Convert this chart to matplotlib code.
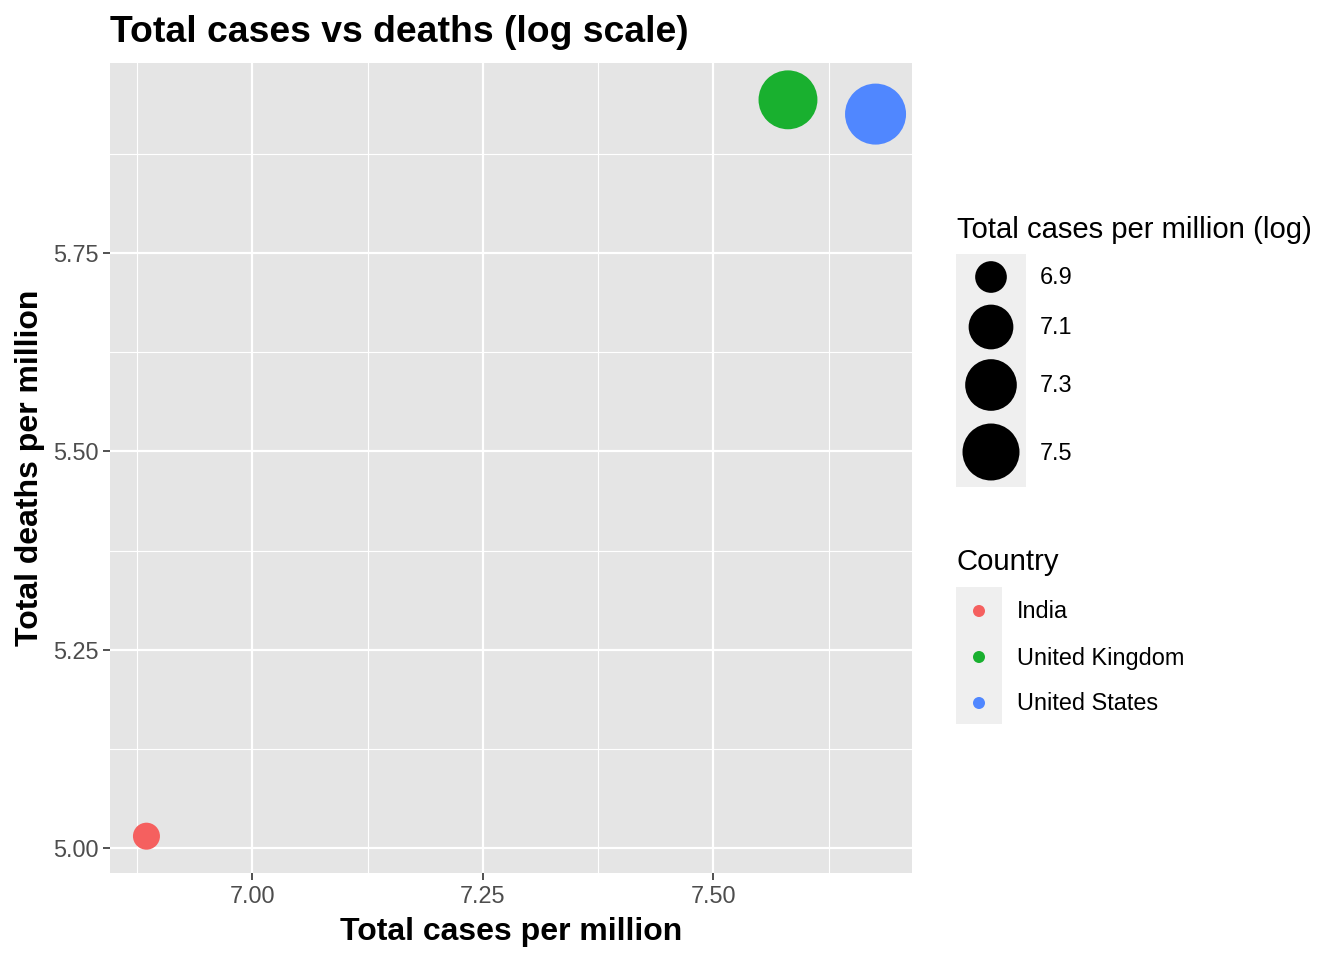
import numpy as np
import matplotlib
matplotlib.use("Agg")
import matplotlib.pyplot as plt
from matplotlib.patches import Circle, Rectangle

plt.rcParams['font.family'] = ['Liberation Sans', 'DejaVu Sans']

# ---- data ----
countries = ["India", "United Kingdom", "United States"]
log_cases = [6.885, 7.581, 7.676]
log_deaths = [5.015, 5.943, 5.925]
country_colors = ["#F5605F", "#19B02F", "#5087FF"]
size_breaks = [6.9, 7.1, 7.3, 7.5]
x_ticks = [7.00, 7.25, 7.50]
y_ticks = [5.00, 5.25, 5.50, 5.75]

W, H, DPI = 1344, 960, 100
fig = plt.figure(figsize=(W / DPI, H / DPI), dpi=DPI)

vmin, vmax = min(log_cases), max(log_cases)
def diam_px(v):
    t = np.clip((v - vmin) / (vmax - vmin), 0, 1)
    return 27 + 34 * np.sqrt(t)

# main panel
L, R, T, B = 110, 912, 63, 873
ax = fig.add_axes([L / W, 1 - B / H, (R - L) / W, (B - T) / H])
ax.set_facecolor("#E5E5E5")
for s in ax.spines.values():
    s.set_visible(False)

def expand(vals, f=0.05):
    lo, hi = min(vals), max(vals)
    d = (hi - lo) * f
    return lo - d, hi + d

ax.set_xlim(*expand(log_cases))
ax.set_ylim(*expand(log_deaths))
ax.set_xticks(x_ticks)
ax.set_xticklabels([f"{v:.2f}" for v in x_ticks])
ax.set_yticks(y_ticks)
ax.set_yticklabels([f"{v:.2f}" for v in y_ticks])
ax.set_xticks([6.875, 7.125, 7.375, 7.625], minor=True)
ax.set_yticks([5.125, 5.375, 5.625, 5.875], minor=True)
ax.grid(True, which="major", color="white", linewidth=1.6)
ax.grid(True, which="minor", color="white", linewidth=0.8)
ax.set_axisbelow(True)
ax.tick_params(which="major", length=5.3, width=1.2, color="#333333",
               labelsize=16.9, labelcolor="#4D4D4D", pad=3)
ax.tick_params(which="minor", length=0)

for xv, yv, c in zip(log_cases, log_deaths, country_colors):
    d = diam_px(xv) * 72 / DPI
    ax.scatter([xv], [yv], s=d ** 2, color=c, edgecolors="none", zorder=3)

ax.set_xlabel("Total cases per million", fontsize=23, fontweight="bold", labelpad=7)
ax.set_ylabel("Total deaths per million", fontsize=23, fontweight="bold", labelpad=6)
fig.text(L / W, 1 - 32 / H, "Total cases vs deaths (log scale)", fontsize=26.9,
         fontweight="bold", ha="left", va="center")

# legends drawn in pixel coordinates
lg = fig.add_axes([0, 0, 1, 1])
lg.set_xlim(0, W)
lg.set_ylim(H, 0)
lg.axis("off")
lg.patch.set_alpha(0)

# size legend
lg.text(957, 230, "Total cases per million (log)", fontsize=21.1, ha="left", va="center")
lg.add_patch(Rectangle((956, 254), 70, 233, facecolor="#EFEFEF", edgecolor="none"))
size_y = [277, 327, 385, 452]
for v, yc in zip(size_breaks, size_y):
    lg.add_patch(Circle((991, yc), diam_px(v) / 2, facecolor="black", edgecolor="none"))
    lg.text(1040, yc + 1, f"{v:.1f}", fontsize=16.9, ha="left", va="center")

# country legend
lg.text(957, 562, "Country", fontsize=21.1, ha="left", va="center")
lg.add_patch(Rectangle((956, 587), 46, 137, facecolor="#EFEFEF", edgecolor="none"))
cy = [611, 657, 703]
for name, c, yc in zip(countries, country_colors, cy):
    lg.add_patch(Circle((979, yc), 6, facecolor=c, edgecolor="none"))
    lg.text(1017, yc + 1, name, fontsize=16.9, ha="left", va="center")

fig.savefig("out.png", dpi=DPI)
